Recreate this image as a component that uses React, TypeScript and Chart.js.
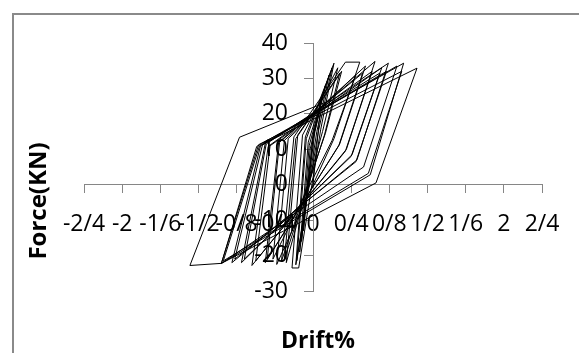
import React, { useEffect, useRef } from "react";
import { Chart, registerables } from "chart.js";

Chart.register(...registerables);

// Drift (%) and force (kN) along the loading path
const driftValues = [
  0,
  0.08, 0.0, -0.1, -0.03,
  0.1, 0.0, -0.12, -0.04,
  0.13, 0.02, -0.14, -0.05,
  0.17, 0.04, -0.17, -0.07,
  0.2, 0.06, -0.18, -0.08,
  0.22, 0.08, -0.15, -0.22, -0.11,
  0.26, 0.1, -0.28, -0.16,
  0.28, 0.12, -0.3, -0.18,
  0.3, 0.13, -0.33, -0.2,
  0.34, 0.49, 0.22, -0.38, -0.26,
  0.45, 0.2, -0.42, -0.3,
  0.55, 0.28, -0.5, -0.36,
  0.52, 0.27, -0.48, -0.35,
  0.65, 0.35, -0.64, -0.47,
  0.62, 0.34, -0.6, -0.45,
  0.72, 0.41, -0.75, -0.5,
  0.7, 0.4, -0.72, -0.49,
  0.79, 0.46, -0.85, -0.55,
  0.77, 0.45, -0.82, -0.53,
  0.88, 0.53, -0.96, -0.59,
  0.95, 0.6, -0.96, -0.57,
  0.93, 0.58, -0.94, -0.56,
  1.09, 0.66, -0.96, -1.29, -0.77, 0.2,
];
const forceValues = [
  0,
  22, 13, -13, 10,
  25, 14, -16, 11,
  28, 15, -19, 12,
  31, 15, -21.5, 13,
  33, 15.5, -22.6, 13.5,
  34.3, 15.5, -23.5, -23.5, 14,
  33, 15, -22, 14,
  31.5, 14, -21, 13,
  32, 14.5, -21.5, 13.5,
  34.6, 34.6, 13, -22.5, 13,
  31, 12.5, -21, 12.5,
  33.5, 11.5, -22, 12,
  31.5, 11, -21, 12,
  34.8, 10, -22.8, 10.8,
  32, 9.5, -21.5, 11,
  33, 8.5, -22, 11.7,
  31.5, 8, -21, 11.5,
  34.3, 7, -22, 11,
  32, 6.5, -21, 11.2,
  33.5, 5, -22.2, 10.8,
  34.3, 2.8, -22.2, 11.3,
  32, 3.2, -21.5, 11,
  32.9, 0.5, -22.2, -22.8, 13.4, 24,
];

const xTickValues = [-2.4, -2, -1.6, -1.2, -0.8, -0.4, 0, 0.4, 0.8, 1.2, 1.6, 2, 2.4];
const xTickLabels = ["-2/4", "-2", "-1/6", "-1/2", "-0/8", "-0/4", "0", "0/4", "0/8", "1/2", "1/6", "2", "2/4"];
const yTickValues = [-30, -20, -10, 0, 10, 20, 30, 40];
const yTickLabels = ["-30", "-20", "-10", "0", "10", "20", "30", "40"];
const xTitle = "Drift%";
const yTitle = "Force(KN)";

const FONT_FAMILY = "'Open Sans', sans-serif";
const TICK_SIZE = 23;
const AXIS_GRAY = "#868686";

const framePlugin = {
  id: "frame",
  beforeDraw(chart: any) {
    const { ctx } = chart;
    ctx.save();
    ctx.fillStyle = "#ffffff";
    ctx.fillRect(0, 0, chart.width, chart.height);
    ctx.strokeStyle = "#8a8a8a";
    ctx.lineWidth = 2;
    ctx.strokeRect(13, 14, 1000, 1000);
    ctx.restore();
  },
  beforeDatasetsDraw(chart: any) {
    // y tick labels, placed left of the centred y axis (tick + padding)
    const { ctx } = chart;
    const yScale = chart.scales.y;
    const xScale = chart.scales.x;
    const axisX = xScale.getPixelForValue(0);
    ctx.save();
    ctx.fillStyle = "#000000";
    ctx.font = `${TICK_SIZE}px ${FONT_FAMILY}`;
    ctx.textAlign = "right";
    ctx.textBaseline = "middle";
    yTickValues.forEach((v, i) => {
      ctx.fillText(yTickLabels[i], axisX - 25, yScale.getPixelForValue(v));
    });
    ctx.restore();
  },
  afterDraw(chart: any) {
    const { ctx } = chart;
    ctx.save();
    ctx.fillStyle = "#000000";
    ctx.textAlign = "center";
    ctx.textBaseline = "middle";
    ctx.font = `bold 23px ${FONT_FAMILY}`;
    ctx.fillText(xTitle, 318, 341);
    ctx.font = `bold 24px ${FONT_FAMILY}`;
    ctx.translate(39, 201);
    ctx.rotate(-Math.PI / 2);
    ctx.fillText(yTitle, 0, 0);
    ctx.restore();
  },
};

export default function App() {
  const canvasRef = useRef<HTMLCanvasElement | null>(null);

  useEffect(() => {
    const canvas = canvasRef.current;
    if (!canvas) return;
    const points = driftValues.map((x, i) => ({ x, y: forceValues[i] }));
    const chart = new Chart(canvas, {
      type: "scatter",
      data: {
        datasets: [
          {
            label: "Hysteresis",
            data: points,
            showLine: true,
            borderColor: "#000000",
            borderWidth: 1,
            pointRadius: 0,
            pointHoverRadius: 0,
            tension: 0,
            fill: false,
          },
        ],
      },
      options: {
        responsive: false,
        animation: false,
        events: [],
        layout: { padding: { left: 84, top: 43, right: 37, bottom: 62 } },
        plugins: {
          legend: { display: false },
          tooltip: { enabled: false },
          title: { display: false },
        },
        scales: {
          x: {
            type: "linear",
            min: -2.4,
            max: 2.4,
            position: { y: 0 },
            afterBuildTicks: (scale: any) => {
              scale.ticks = xTickValues.map((v) => ({ value: v }));
            },
            afterFit: (scale: any) => {
              scale.height = 0;
            },
            ticks: {
              autoSkip: false,
              maxRotation: 0,
              minRotation: 0,
              padding: 18,
              color: "#000000",
              font: { family: FONT_FAMILY, size: TICK_SIZE },
              callback: (_v: any, i: number) => xTickLabels[i],
            },
            grid: {
              drawOnChartArea: false,
              drawTicks: true,
              tickLength: 8,
              color: AXIS_GRAY,
              lineWidth: 1,
            },
            border: { display: true, color: AXIS_GRAY, width: 1 },
          },
          y: {
            type: "linear",
            min: -30,
            max: 40,
            position: { x: 0 },
            afterBuildTicks: (scale: any) => {
              scale.ticks = yTickValues.map((v) => ({ value: v }));
            },
            afterFit: (scale: any) => {
              scale.width = 0;
            },
            ticks: {
              display: false,
              autoSkip: false,
            },
            grid: {
              drawOnChartArea: false,
              drawTicks: true,
              tickLength: 9,
              color: AXIS_GRAY,
              lineWidth: 1,
            },
            border: { display: true, color: AXIS_GRAY, width: 1 },
          },
        },
      },
      plugins: [framePlugin],
    });
    return () => chart.destroy();
  }, []);

  return (
    <div style={{ position: "fixed", left: 0, top: 0, width: 579, height: 353, overflow: "hidden", background: "#fff" }}>
      <canvas ref={canvasRef} width={579} height={353} style={{ display: "block" }} />
    </div>
  );
}
